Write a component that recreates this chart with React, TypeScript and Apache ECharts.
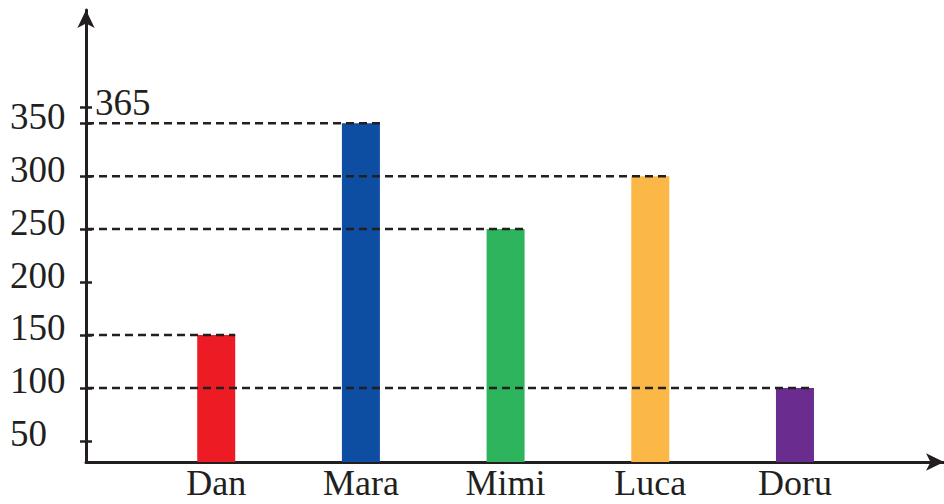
import React, { useEffect, useRef } from "react";
import * as echarts from "echarts";

const names = ["Dan", "Mara", "Mimi", "Luca", "Doru"];
const values = [150, 350, 250, 300, 100];
const colors = ["#ED1C24", "#0D4EA2", "#2EB45D", "#FBB846", "#6B2C8F"];
const yTickLabels = [50, 100, 150, 200, 250, 300, 350];
const extraTick = 365;

const X_MIN = 0.1;
const X_MAX = 6.03;
const Y_MIN = 30;
const Y_MAX = 457;
const BAR_W = 38;
const INK = "#231F20";
const FONT = "Liberation Serif";

export default function App() {
  const ref = useRef<HTMLDivElement>(null);
  useEffect(() => {
    if (!ref.current) return;
    const chart = echarts.init(ref.current, null, { renderer: "svg" });
    const positions = names.map((_, i) => i + 1);
    const allTicks = [...yTickLabels, extraTick];
    const option: any = {
      animation: false,
      grid: { left: 86, right: 0, top: 10, bottom: 42 },
      xAxis: {
        type: "value",
        min: X_MIN,
        max: X_MAX,
        splitLine: { show: false },
        axisLine: {
          show: true,
          onZero: false,
          symbol: ["none", "arrow"],
          symbolSize: [13, 18],
          lineStyle: { color: INK, width: 3 },
        },
        axisTick: { show: false },
        axisLabel: {
          customValues: positions,
          formatter: (v: number) => names[Math.round(v) - 1] ?? "",
          color: INK,
          fontFamily: FONT,
          fontSize: 36,
          lineHeight: 28,
          margin: 7,
        },
      },
      yAxis: [
        {
          type: "value",
          min: Y_MIN,
          max: Y_MAX,
          splitLine: { show: false },
          axisLine: {
            show: true,
            onZero: false,
            symbol: ["none", "arrow"],
            symbolSize: [13, 18],
            lineStyle: { color: INK, width: 3 },
          },
          axisTick: {
            show: true,
            length: 6,
            customValues: allTicks,
            lineStyle: { color: INK, width: 2.5 },
          },
          axisLabel: {
            customValues: yTickLabels,
            color: INK,
            fontFamily: FONT,
            fontSize: 37,
            margin: 76,
            align: "left",
            verticalAlign: "bottom",
            lineHeight: 14,
          },
        },
        {
          type: "value",
          position: "left",
          min: Y_MIN,
          max: Y_MAX,
          splitLine: { show: false },
          axisLine: { show: false },
          axisTick: {
            show: true,
            inside: true,
            length: 6,
            customValues: allTicks,
            lineStyle: { color: INK, width: 2.5 },
          },
          axisLabel: {
            inside: true,
            customValues: [extraTick],
            color: INK,
            fontFamily: FONT,
            fontSize: 37,
            margin: 9,
            verticalAlign: "bottom",
            lineHeight: 10,
          },
        },
      ],
      series: [
        {
          type: "bar",
          barWidth: BAR_W,
          z: 2,
          data: values.map((v, i) => ({
            value: [positions[i], v],
            itemStyle: { color: colors[i] },
          })),
        },
        {
          type: "custom",
          z: 5,
          silent: true,
          data: values.map((v, i) => [positions[i], v]),
          renderItem: (params: any, api: any) => {
            const x = api.value(0);
            const v = api.value(1);
            const start = api.coord([X_MIN, v]);
            const end = api.coord([x, v]);
            return {
              type: "line",
              shape: { x1: start[0], y1: start[1], x2: end[0] + BAR_W / 2, y2: end[1] },
              style: { stroke: INK, lineWidth: 2.5, lineDash: [8, 5] },
            };
          },
        },
      ],
    };
    chart.setOption(option);
    return () => chart.dispose();
  }, []);
  return <div ref={ref} style={{ width: 944, height: 504, position: "absolute", left: 0, top: 0 }} />;
}
